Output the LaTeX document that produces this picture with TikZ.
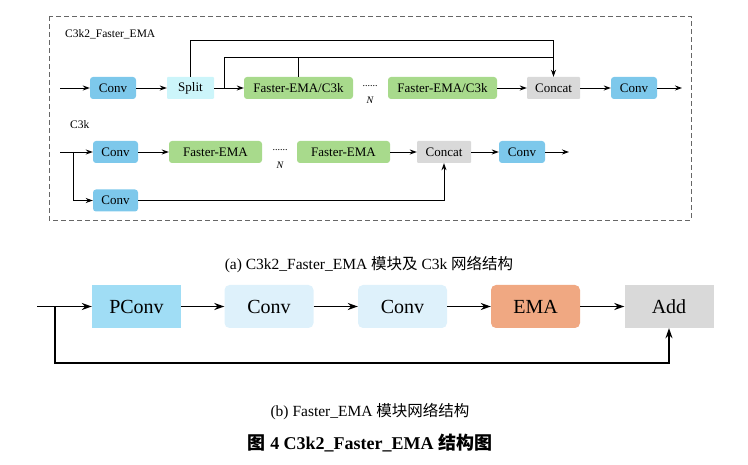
\documentclass[tikz,border=0pt]{standalone}
\usepackage{fontspec}
\setmainfont{Liberation Serif}
\newfontfamily\cjk{Noto Sans CJK SC}
\usetikzlibrary{arrows.meta}
\definecolor{convblue}{RGB}{125,200,235}
\definecolor{splitcyan}{RGB}{204,245,250}
\definecolor{fgreen}{RGB}{168,218,140}
\definecolor{cgray}{RGB}{217,217,217}
\definecolor{pconvblue}{RGB}{160,221,245}
\definecolor{lconv}{RGB}{222,241,251}
\definecolor{emaor}{RGB}{240,168,130}
\tikzset{
  sbox/.style={draw=none, rounded corners=3pt, minimum height=22pt, inner sep=0pt, font=\fontsize{13}{13}\selectfont},
  bbox/.style={draw=none, rounded corners=5pt, minimum height=43pt, minimum width=89pt, inner sep=0pt, font=\fontsize{20}{20}\selectfont},
  sarr/.style={line width=0.9pt, -{Stealth[length=7pt,width=5pt]}},
  sline/.style={line width=0.9pt},
  barr/.style={line width=1.3pt, -{Stealth[length=10pt,width=7pt]}},
  lbl/.style={font=\fontsize{11.5}{11.5}\selectfont, inner sep=0pt},
  dotlbl/.style={font=\fontsize{10}{10}\selectfont, inner sep=0pt},
  captext/.style={font=\fontsize{15.5}{15.5}\selectfont, inner sep=0pt}
}
\begin{document}
\begin{tikzpicture}[x=1pt,y=-1pt]
\useasboundingbox (0,0) rectangle (748,465);
% frame
\draw[gray!80!black, line width=0.8pt, dash pattern=on 5pt off 3pt] (49,16) rectangle (691,220);
\node[lbl, anchor=west] (lab1) at (65,34) {C3k2\_Faster\_EMA};
\node[lbl, anchor=west] (lab2) at (70,125) {C3k};
% top row
\coordinate (in1) at (60,88);
\node[sbox, fill=convblue, minimum width=46pt] (c1) at (113,88) {Conv};
\node[sbox, fill=splitcyan, minimum width=47pt, rounded corners=1pt] (split) at (190.5,88) {Split};
\node[sbox, fill=fgreen, minimum width=109pt] (f1) at (298.5,88) {Faster-EMA/C3k};
\node[sbox, fill=fgreen, minimum width=109pt] (f2) at (442.5,88) {Faster-EMA/C3k};
\node[sbox, fill=cgray, minimum width=53pt, rounded corners=1pt] (cat) at (553.5,88) {Concat};
\node[sbox, fill=convblue, minimum width=46pt] (c2) at (634,88) {Conv};
\coordinate (out1) at (682,88);
\coordinate (br1) at (224,88);
\coordinate (j1) at (553.5,57);
\node[dotlbl] (d1) at (370,86) {......};
\node[dotlbl] (n1) at (370,100) {\itshape N};
\draw[sarr] (in1) -- (c1);
\draw[sarr] (c1) -- (split);
\draw[sarr] (split) -- (f1);
\draw[sarr] (f2) -- (cat);
\draw[sarr] (cat) -- (c2);
\draw[sarr] (c2) -- (out1);
\draw[sarr] (split.north) -- ++(0,-36) -| (cat.north);
\draw[sline] (br1) |- (j1);
\draw[sline] (f1.north) -- ++(0,-20);
% second row
\coordinate (in2) at (60,152);
\coordinate (br2) at (73,152);
\node[sbox, fill=convblue, minimum width=45pt] (r2c1) at (115.5,152) {Conv};
\node[sbox, fill=fgreen, minimum width=93pt] (r2f1) at (215.5,152) {Faster-EMA};
\node[sbox, fill=fgreen, minimum width=93pt] (r2f2) at (343.5,152) {Faster-EMA};
\node[sbox, fill=cgray, minimum width=54pt, rounded corners=1pt] (r2cat) at (444,152) {Concat};
\node[sbox, fill=convblue, minimum width=46pt] (r2c2) at (522,152) {Conv};
\node[sbox, fill=convblue, minimum width=45pt] (r2c3) at (115.5,200.5) {Conv};
\coordinate (out2) at (569,152);
\node[dotlbl] (d2) at (280,150) {......};
\node[dotlbl] (n2) at (280,165) {\itshape N};
\draw[sarr] (in2) -- (r2c1);
\draw[sarr] (r2c1) -- (r2f1);
\draw[sarr] (r2f2) -- (r2cat);
\draw[sarr] (r2cat) -- (r2c2);
\draw[sarr] (r2c2) -- (out2);
\draw[sarr] (br2) |- (r2c3);
\draw[sarr] (r2c3) -| (r2cat.south);
% caption a
\node[captext] (capa) at (369,265) {(a) C3k2\_Faster\_EMA {\cjk 模块及} C3k {\cjk 网络结构}};
% bottom row
\coordinate (in3) at (37,306.5);
\coordinate (br3) at (55,306.5);
\node[bbox, fill=pconvblue, rounded corners=0pt] (pconv) at (136.5,306.5) {PConv};
\node[bbox, fill=lconv] (bc1) at (269,306.5) {Conv};
\node[bbox, fill=lconv] (bc2) at (402.5,306.5) {Conv};
\node[bbox, fill=emaor] (ema) at (535.5,306.5) {EMA};
\node[bbox, fill=cgray, rounded corners=0pt] (add) at (669,306.5) {Add};
\draw[barr] (in3) -- (pconv);
\draw[barr] (pconv) -- (bc1);
\draw[barr] (bc1) -- (bc2);
\draw[barr] (bc2) -- (ema);
\draw[barr] (ema) -- (add);
\draw[barr] (br3) -- ++(0,56.5) -| (add.south);
% captions
\node[captext] (capb) at (370,412) {(b) Faster\_EMA {\cjk 模块网络结构}};
\node[font=\fontsize{18}{18}\selectfont\bfseries, inner sep=0pt] (title) at (370,443) {{\cjk 图} 4 C3k2\_Faster\_EMA {\cjk 结构图}};
\end{tikzpicture}
\end{document}
